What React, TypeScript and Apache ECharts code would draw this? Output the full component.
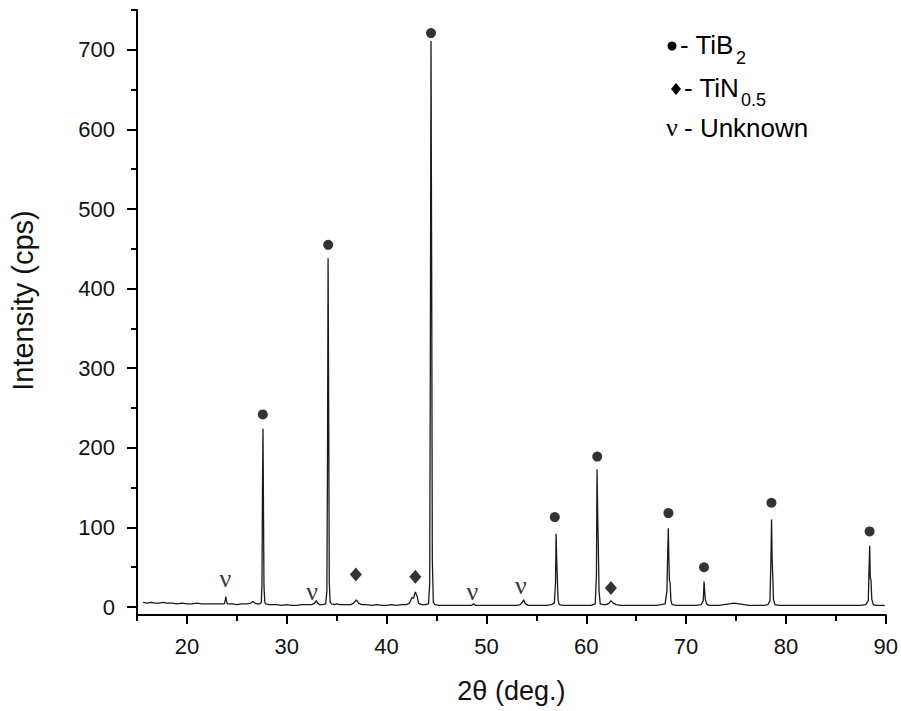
import React, { useEffect, useRef } from "react";
import * as echarts from "echarts";

// XRD pattern: 2θ (deg.) vs intensity (cps)
const twoTheta = [
  15.6, 16.0, 16.4, 16.8, 17.2, 17.6, 18.0, 18.5, 19.0, 19.5, 20.0, 20.5, 21.0, 21.5, 22.0, 22.5, 23.0, 23.5,
  23.75, 23.85, 23.9, 23.95, 24.05, 24.5, 25.0, 25.5, 26.0, 26.4, 26.6, 26.8, 27.0, 27.3,
  27.45, 27.52, 27.57, 27.62, 27.67, 27.72, 27.8, 27.9, 28.2, 28.6, 29.0, 29.5, 30.0, 30.5, 31.0, 31.5, 32.0, 32.5,
  32.8, 32.95, 33.1, 33.3, 33.6, 33.9, 34.02, 34.08, 34.14, 34.2, 34.26, 34.35, 34.5, 34.8, 35.0, 35.3, 35.6, 36.0,
  36.4, 36.7, 36.97, 37.2, 37.5, 38.0, 38.5, 39.0, 39.5, 40.0, 40.5, 41.0, 41.5, 42.0, 42.3, 42.55, 42.7, 42.88,
  43.05, 43.2, 43.5, 43.9, 44.2, 44.32, 44.38, 44.45, 44.52, 44.58, 44.68, 44.85, 45.2, 45.6, 46.0, 46.5, 47.0,
  47.5, 48.0, 48.5, 48.72, 48.9, 49.5, 50.0, 50.5, 51.0, 51.5, 52.0, 52.5, 53.0, 53.4, 53.6, 53.73, 53.9, 54.2,
  54.6, 55.0, 55.5, 56.0, 56.5, 56.8, 56.92, 56.98, 57.04, 57.1, 57.18, 57.3, 57.6, 58.0, 58.5, 59.0, 59.5, 60.0,
  60.5, 60.9, 61.02, 61.08, 61.14, 61.2, 61.28, 61.4, 61.7, 62.0, 62.3, 62.47, 62.7, 63.0, 63.5, 64.0, 64.5, 65.0,
  65.5, 66.0, 66.5, 67.0, 67.5, 67.9, 68.08, 68.16, 68.22, 68.27, 68.33, 68.4, 68.48, 68.6, 69.0, 69.5, 70.0,
  70.5, 71.0, 71.5, 71.72, 71.8, 71.86, 71.92, 72.05, 72.3, 72.8, 73.3, 73.8, 74.3, 74.8, 75.3, 75.8, 76.3, 76.8,
  77.3, 77.8, 78.2, 78.4, 78.5, 78.56, 78.62, 78.68, 78.75, 78.9, 79.3, 79.8, 80.5, 81.0, 81.5, 82.0, 82.5, 83.0,
  83.5, 84.0, 84.5, 85.0, 85.5, 86.0, 86.5, 87.0, 87.5, 88.0, 88.25, 88.33, 88.39, 88.45, 88.52, 88.6, 88.75,
  89.0, 89.4, 89.9,
];
const intensity = [
  6, 5, 6, 5, 5, 6, 5, 5, 4, 5, 4, 4, 5, 4, 4, 4, 4, 4,
  4, 9, 13, 8, 4, 4, 3, 4, 4, 5, 7, 5, 4, 4,
  6, 30, 150, 224, 120, 25, 6, 4, 3, 3, 3, 2, 3, 2, 2, 3, 3, 3,
  5, 8, 5, 3, 3, 4, 20, 180, 438, 250, 30, 6, 4, 3, 4, 3, 3, 3,
  3, 5, 9, 5, 3, 3, 2, 3, 2, 2, 3, 2, 3, 3, 5, 12, 11, 19,
  14, 5, 3, 3, 4, 30, 300, 711, 400, 60, 6, 3, 2, 2, 2, 2, 2,
  2, 2, 2, 4, 2, 2, 2, 2, 2, 2, 2, 2, 2, 3, 6, 9, 4, 2,
  2, 2, 2, 2, 3, 5, 30, 92, 60, 36, 8, 3, 2, 2, 2, 2, 2, 2,
  2, 4, 40, 173, 120, 82, 20, 4, 3, 3, 5, 8, 5, 3, 2, 2, 2, 2,
  2, 2, 2, 2, 3, 4, 20, 70, 99, 63, 34, 30, 8, 3, 2, 2, 2,
  2, 2, 3, 8, 32, 20, 10, 4, 2, 2, 2, 3, 4, 5, 4, 3, 2, 2,
  2, 2, 3, 8, 60, 110, 59, 40, 10, 3, 2, 2, 2, 2, 2, 2, 2, 2,
  2, 2, 2, 2, 2, 2, 2, 2, 2, 3, 8, 50, 77, 36, 34, 10, 3,
  2, 2, 2,
];

// Peak markers [2θ, height]
const tib2Markers = [
  [27.6, 242], [34.15, 455], [44.45, 721], [56.85, 113], [61.1, 189],
  [68.23, 118], [71.8, 50], [78.55, 131], [88.38, 95],
];
const tinMarkers = [[36.92, 41], [42.88, 38], [62.47, 24]];
const unknownMarkers = [[23.85, 36], [32.55, 20], [48.6, 20], [53.45, 27]];

const yMajorTicks = [0, 100, 200, 300, 400, 500, 600, 700];
const yMinorTicks = [50, 150, 250, 350, 450, 550, 650, 750];
const xMajorTicks = [20, 30, 40, 50, 60, 70, 80, 90];
const xMinorTicks = [15, 25, 35, 45, 55, 65, 75, 85];

const SANS = "'Liberation Sans', Arial, Helvetica, sans-serif";
const SERIF = "'Liberation Serif', 'Times New Roman', serif";

export default function App() {
  const ref = useRef<HTMLDivElement>(null);
  useEffect(() => {
    if (!ref.current) return;
    const chart = echarts.init(ref.current, null, { renderer: "svg" });
    const axisLine = { show: true, onZero: false, lineStyle: { color: "#000", width: 2 } };
    const tickLine = { color: "#000", width: 2 };
    const legendText = { fontSize: 26, fontFamily: SANS, fill: "#000", verticalAlign: "middle" };
    const subText = { fontSize: 18, fontFamily: SANS, fill: "#000", verticalAlign: "middle" };
    const option: any = {
      animation: false,
      backgroundColor: "#fff",
      grid: { left: 136, right: 15, top: 10, bottom: 96 },
      xAxis: [
        {
          type: "value", min: 15, max: 90, position: "bottom",
          axisLine,
          axisTick: { show: true, customValues: xMajorTicks, length: 9, lineStyle: tickLine },
          axisLabel: { customValues: xMajorTicks, margin: 20, fontSize: 22, color: "#111", fontFamily: SANS },
          splitLine: { show: false },
          name: "2θ (deg.)", nameLocation: "middle", nameGap: 62,
          nameTextStyle: { fontSize: 27, color: "#111", fontFamily: SANS },
        },
        {
          type: "value", min: 15, max: 90, position: "bottom",
          axisLine: { show: false, onZero: false },
          axisTick: { show: true, customValues: xMinorTicks, length: 6, lineStyle: tickLine },
          axisLabel: { show: false },
          splitLine: { show: false },
        },
      ],
      yAxis: [
        {
          type: "value", min: -10, max: 750, position: "left",
          axisLine,
          axisTick: { show: true, customValues: yMajorTicks, length: 10, lineStyle: tickLine },
          axisLabel: { customValues: yMajorTicks, margin: 22, fontSize: 22, color: "#111", fontFamily: SANS },
          splitLine: { show: false },
          name: "Intensity (cps)", nameLocation: "middle", nameGap: 100, nameRotate: 90,
          nameTextStyle: { fontSize: 29, color: "#111", fontFamily: SANS, padding: [0, 0, 0, 24] },
        },
        {
          type: "value", min: -10, max: 750, position: "left",
          axisLine: { show: false, onZero: false },
          axisTick: { show: true, customValues: yMinorTicks, length: 6, lineStyle: tickLine },
          axisLabel: { show: false },
          splitLine: { show: false },
        },
      ],
      series: [
        {
          type: "line", xAxisIndex: 0, yAxisIndex: 0,
          data: twoTheta.map((x, i) => [x, intensity[i]]),
          symbol: "none", showSymbol: false,
          lineStyle: { color: "#1a1a1a", width: 1.3 },
          z: 2,
        },
        {
          type: "scatter", xAxisIndex: 0, yAxisIndex: 0,
          data: tib2Markers, symbol: "circle", symbolSize: 10,
          itemStyle: { color: "#000" }, z: 3,
        },
        {
          type: "scatter", xAxisIndex: 0, yAxisIndex: 0,
          data: tinMarkers, symbol: "diamond", symbolSize: [12, 14],
          itemStyle: { color: "#000" }, z: 3,
        },
        {
          type: "scatter", xAxisIndex: 0, yAxisIndex: 0,
          data: unknownMarkers, symbol: "circle", symbolSize: 1,
          itemStyle: { color: "rgba(0,0,0,0)" },
          label: {
            show: true, position: "inside", formatter: "ν",
            fontSize: 26, fontFamily: SERIF, color: "#000",
          },
          z: 3,
        },
      ],
      graphic: [
        { type: "circle", shape: { cx: 672, cy: 46, r: 4.5 }, style: { fill: "#000" } },
        { type: "text", x: 680, y: 45, style: { ...legendText, text: "- TiB" } },
        { type: "text", x: 736, y: 58, style: { ...subText, text: "2" } },
        { type: "polygon", shape: { points: [[676, 83], [681, 89], [676, 95], [671, 89]] }, style: { fill: "#000" } },
        { type: "text", x: 684, y: 88, style: { ...legendText, text: "- TiN" } },
        { type: "text", x: 741, y: 100, style: { ...subText, text: "0.5" } },
        { type: "text", x: 666, y: 127, style: { ...legendText, fontFamily: SERIF, text: "ν" } },
        { type: "text", x: 684, y: 128, style: { ...legendText, text: "- Unknown" } },
      ],
    };
    chart.setOption(option);
    return () => chart.dispose();
  }, []);
  return (
    <div
      ref={ref}
      style={{ position: "fixed", left: 0, top: 0, width: 901, height: 711, background: "#fff" }}
    />
  );
}
